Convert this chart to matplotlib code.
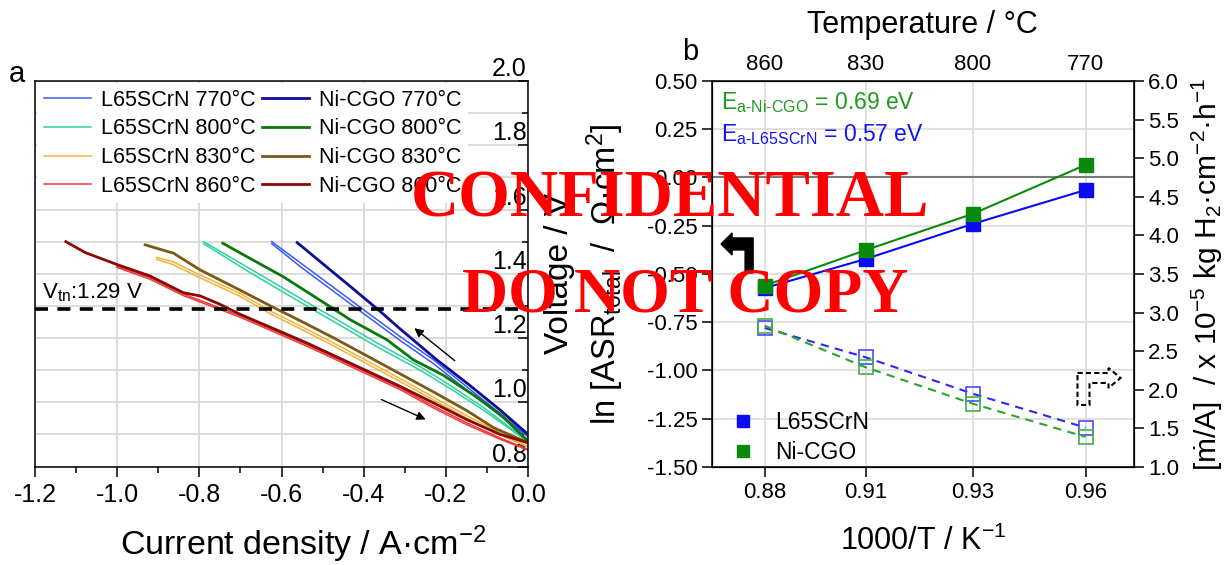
import matplotlib
matplotlib.use("Agg")
import matplotlib.pyplot as plt
from matplotlib.lines import Line2D
from matplotlib.patches import Polygon
from matplotlib.ticker import MultipleLocator

plt.rcParams['font.family'] = ['Liberation Sans', 'DejaVu Sans']
plt.rcParams['mathtext.fontset'] = 'custom'
plt.rcParams['mathtext.rm'] = 'Liberation Sans'
plt.rcParams['mathtext.it'] = 'Liberation Sans:italic'
plt.rcParams['mathtext.bf'] = 'Liberation Sans:bold'

# ---- (a) i-V curves, current density in A/cm2, voltage in V ----
# L65SCrN: outgoing and return sweep
j_l65_770 = [0.0, -0.068, -0.149, -0.230, -0.312, -0.393, -0.474, -0.555, -0.624]
v_l65_770_up = [0.895, 0.965, 1.048, 1.132, 1.205, 1.281, 1.358, 1.435, 1.500]
v_l65_770_dn = [0.893, 0.958, 1.038, 1.120, 1.193, 1.269, 1.346, 1.423, 1.494]

j_l65_800 = [0.0, -0.109, -0.190, -0.263, -0.368, -0.474, -0.555, -0.677, -0.790]
v_l65_800_up = [0.879, 0.984, 1.053, 1.111, 1.185, 1.264, 1.324, 1.416, 1.500]
v_l65_800_dn = [0.877, 0.976, 1.043, 1.100, 1.173, 1.252, 1.312, 1.404, 1.494]

j_l65_830 = [0.0, -0.068, -0.149, -0.312, -0.474, -0.555, -0.624, -0.701, -0.798, -0.863, -0.904]
v_l65_830_up = [0.863, 0.905, 0.958, 1.074, 1.185, 1.238, 1.282, 1.339, 1.396, 1.437, 1.451]
v_l65_830_dn = [0.860, 0.899, 0.950, 1.065, 1.176, 1.229, 1.273, 1.330, 1.387, 1.428, 1.445]

j_l65_860 = [0.0, -0.068, -0.149, -0.230, -0.312, -0.539, -0.701, -0.839, -0.920, -1.001]
v_l65_860_up = [0.853, 0.889, 0.936, 0.988, 1.045, 1.180, 1.270, 1.337, 1.388, 1.424]
v_l65_860_dn = [0.851, 0.885, 0.930, 0.982, 1.040, 1.175, 1.265, 1.332, 1.383, 1.420]

# Ni-CGO
j_ni_770 = [0.0, -0.068, -0.149, -0.222, -0.312, -0.360, -0.433, -0.490, -0.562]
v_ni_770 = [0.900, 0.976, 1.060, 1.132, 1.229, 1.283, 1.361, 1.421, 1.497]

j_ni_800 = [0.0, -0.068, -0.125, -0.206, -0.279, -0.344, -0.433, -0.514, -0.596, -0.677, -0.743]
v_ni_800 = [0.879, 0.963, 1.016, 1.084, 1.132, 1.195, 1.257, 1.324, 1.391, 1.448, 1.495]

j_ni_830 = [0.0, -0.084, -0.149, -0.230, -0.312, -0.474, -0.555, -0.624, -0.701, -0.798, -0.863, -0.932]
v_ni_830 = [0.874, 0.921, 0.974, 1.032, 1.089, 1.201, 1.254, 1.298, 1.349, 1.412, 1.464, 1.490]

j_ni_860 = [0.0, -0.068, -0.149, -0.230, -0.312, -0.539, -0.701, -0.750, -0.798, -0.839,
            -0.920, -1.001, -1.078, -1.125]
v_ni_860 = [0.874, 0.900, 0.946, 0.998, 1.050, 1.185, 1.274, 1.305, 1.331, 1.341,
            1.393, 1.429, 1.466, 1.500]

v_tn = 1.29

# ---- (b) Arrhenius plot ----
temps_c = [860, 830, 800, 770]
inv_t = [0.8825, 0.9065, 0.9318, 0.9586]          # 1000/T, K^-1
inv_t_labels = ['0.88', '0.91', '0.93', '0.96']
ln_asr_l65 = [-0.573, -0.422, -0.241, -0.065]
ln_asr_ni = [-0.560, -0.376, -0.189, 0.065]
h2_rate_l65 = [2.80, 2.42, 1.95, 1.51]             # x 1e-5 kg H2 cm-2 h-1
h2_rate_ni = [2.83, 2.29, 1.82, 1.39]

fig = plt.figure(figsize=(12.3, 5.65), dpi=100)

# ================= panel a =================
ax = fig.add_axes([0.0285, 0.1743, 0.4008, 0.6823])
ax.set_xlim(-1.2, 0.0)
ax.set_ylim(0.8, 2.0)
ax.set_axisbelow(True)

c_l65 = ['#3b5bf2', '#2cd39e', '#f0b43a', '#f03a3a']
c_ni = ['#0d0d9a', '#0a780a', '#7a5a14', '#8a0a0a']
l65_sets = [(j_l65_770, v_l65_770_up, v_l65_770_dn, '770'),
            (j_l65_800, v_l65_800_up, v_l65_800_dn, '800'),
            (j_l65_830, v_l65_830_up, v_l65_830_dn, '830'),
            (j_l65_860, v_l65_860_up, v_l65_860_dn, '860')]
ni_sets = [(j_ni_770, v_ni_770, '770'), (j_ni_800, v_ni_800, '800'),
           (j_ni_830, v_ni_830, '830'), (j_ni_860, v_ni_860, '860')]

handles = []
for (j, vu, vd, t), c in zip(l65_sets, c_l65):
    h, = ax.plot(j, vu, color=c, lw=1.1, label=f'L65SCrN {t}°C')
    ax.plot(j, vd, color=c, lw=1.1)
    handles.append(h)
for (j, v, t), c in zip(ni_sets, c_ni):
    h, = ax.plot(j, v, color=c, lw=2.0, label=f'Ni-CGO {t}°C')
    handles.append(h)

ax.axhline(v_tn, color='k', lw=2.6, ls=(0, (3.6, 2.6)))
ax.text(-1.182, v_tn + 0.05, r'V$_{\mathrm{tn}}$:1.29 V', fontsize=16, va='center', ha='left')

# sweep direction arrows
ax.annotate('', xy=(-0.282, 1.236), xytext=(-0.173, 1.124),
            arrowprops=dict(arrowstyle='-|>', color='k', lw=1.0, mutation_scale=13))
ax.annotate('', xy=(-0.243, 0.943), xytext=(-0.363, 1.012),
            arrowprops=dict(arrowstyle='-|>', color='k', lw=1.0, mutation_scale=13))

ax.xaxis.set_major_locator(MultipleLocator(0.2))
ax.xaxis.set_minor_locator(MultipleLocator(0.1))
ax.yaxis.set_major_locator(MultipleLocator(0.2))
ax.yaxis.set_minor_locator(MultipleLocator(0.1))
ax.grid(which='major', axis='x', color='#d6d6d6', lw=1.2)
ax.grid(which='both', axis='y', color='#d6d6d6', lw=1.2)
ax.xaxis.set_major_formatter(lambda x, pos: f'{x:.1f}')
ax.yaxis.set_major_formatter(lambda y, pos: f'{y:.1f}')

ax.yaxis.tick_right()
ax.tick_params(axis='x', which='major', direction='out', length=7, width=1.1,
               labelsize=18, pad=5)
ax.tick_params(axis='x', which='minor', direction='out', length=4, width=1.1)
ax.tick_params(axis='y', which='major', direction='in', length=7, width=1.1,
               left=False, right=True, labelleft=False, labelright=True,
               labelsize=18, pad=-1)
ax.tick_params(axis='y', which='minor', direction='in', length=4, width=1.1,
               left=False, right=True)
for lbl in ax.get_yticklabels():
    lbl.set_ha('right')
    lbl.set_va('bottom')
for s in ax.spines.values():
    s.set_linewidth(1.1)

ax.set_xlabel('Current density / A·cm$^{-2}$', fontsize=24.5)
ax.xaxis.set_label_coords(0.545, -0.148)
ax.yaxis.set_label_position('right')
ax.set_ylabel('Voltage / V', fontsize=24, labelpad=8, rotation=90)

ax.legend(handles=handles, ncol=2, loc='upper left', bbox_to_anchor=(0.0, 1.0),
          fontsize=15.5, handlelength=2.2, handletextpad=0.45, columnspacing=0.3,
          labelspacing=0.36, borderpad=0.3, borderaxespad=0.1,
          frameon=True, fancybox=False, framealpha=1, facecolor='white',
          edgecolor='none')

fig.text(17 / 1230, 1 - 74 / 565, 'a', fontsize=21, ha='center', va='center')

# ================= panel b =================
bx = fig.add_axes([0.5789, 0.1735, 0.3427, 0.6832])
bx.set_xlim(0.870, 0.970)
bx.set_ylim(-1.5, 0.5)
bx.set_axisbelow(True)
bx.set_xticks(inv_t)
bx.set_xticklabels(inv_t_labels)
bx.set_yticks([-1.5, -1.25, -1.0, -0.75, -0.5, -0.25, 0.0, 0.25, 0.5])
bx.yaxis.set_major_formatter(lambda y, pos: f'{y:.2f}')
bx.grid(True, color='#dcdcdc', lw=1.2)
bx.axhline(0.0, color='#7a7a7a', lw=1.5, zorder=1.5)

col_l65, col_ni = '#0a0af5', '#0a8a0a'
bx.plot(inv_t, ln_asr_l65, marker='s', ms=9.5, color=col_l65, lw=1.5, zorder=3)
bx.plot(inv_t, ln_asr_ni, marker='s', ms=9.5, color=col_ni, lw=1.5, zorder=3)

bx.tick_params(axis='both', direction='out', length=7, width=1.1, labelsize=16)
bx.tick_params(axis='x', pad=4)
for s in bx.spines.values():
    s.set_linewidth(1.1)
bx.set_xlabel('1000/T / K$^{-1}$', fontsize=22, labelpad=16)
bx.set_ylabel('ln [ASR$_{\\mathrm{total}}$  /  Ω·cm$^{2}$]', fontsize=23.5, labelpad=15)

bx.text(0.021, 0.943, r'E$_{\text{a-Ni-CGO}}$ = 0.69 eV', color='#1f9a1f',
        fontsize=16.5, transform=bx.transAxes, ha='left', va='center')
bx.text(0.021, 0.860, r'E$_{\text{a-L65SCrN}}$ = 0.57 eV', color='#1515f0',
        fontsize=16.5, transform=bx.transAxes, ha='left', va='center')

# axis pointers
left_arrow = [(0.0214, 0.5777), (0.0475, 0.6062), (0.0475, 0.5933), (0.0974, 0.5933),
              (0.0974, 0.5026), (0.0784, 0.5026), (0.0784, 0.5622), (0.0475, 0.5622),
              (0.0475, 0.5492)]
bx.add_patch(Polygon(left_arrow, closed=True, transform=bx.transAxes,
                     facecolor='k', edgecolor='k', lw=1, zorder=4))
right_arrow = [(0.8670, 0.2435), (0.9406, 0.2435), (0.9406, 0.2565), (0.9691, 0.2306),
               (0.9406, 0.2047), (0.9406, 0.2176), (0.8955, 0.2176), (0.8955, 0.1606),
               (0.8670, 0.1606)]
bx.add_patch(Polygon(right_arrow, closed=True, transform=bx.transAxes,
                     facecolor='none', edgecolor='k', lw=1.5, ls=(0, (2.5, 1.5)), zorder=4))

leg_handles = [Line2D([], [], marker='s', ls='none', ms=9, color=col_l65),
               Line2D([], [], marker='s', ls='none', ms=9, color=col_ni)]
bx.legend(leg_handles, ['L65SCrN', 'Ni-CGO'], loc='lower left', bbox_to_anchor=(-0.029, -0.046),
          fontsize=16.5, frameon=False, handletextpad=0.4, labelspacing=0.3)

# production rate on the right axis
rx = bx.twinx()
rx.set_ylim(1.0, 6.0)
rx.set_yticks([1.0, 1.5, 2.0, 2.5, 3.0, 3.5, 4.0, 4.5, 5.0, 5.5, 6.0])
rx.yaxis.set_major_formatter(lambda y, pos: f'{y:.1f}')
rx.plot(inv_t, h2_rate_l65, marker='s', ms=10, mfc='none', mec='#4a4aff', mew=1.2,
        color='#2a2af2', lw=1.5, ls=(0, (4, 3)))
rx.plot(inv_t, h2_rate_ni, marker='s', ms=10, mfc='none', mec='#44b044', mew=1.2,
        color='#2aa52a', lw=1.5, ls=(0, (4, 3)))
rx.tick_params(axis='y', direction='out', length=7, width=1.1, labelsize=16)
rx.set_ylabel('[$\\dot{\\mathrm{m}}$/A]  / x 10$^{-5}$ kg H$_2$·cm$^{-2}$·h$^{-1}$',
              fontsize=21.5, labelpad=8)

# temperature scale on top
tx = bx.twiny()
tx.set_xlim(bx.get_xlim())
tx.set_xticks(inv_t)
tx.set_xticklabels([str(t) for t in temps_c])
tx.tick_params(axis='x', length=0, labelsize=16, pad=4.5)
tx.set_xlabel('Temperature / °C', fontsize=22, labelpad=15)

fig.text(690 / 1230, 1 - 52 / 565, 'b', fontsize=21, ha='center', va='center')

# watermark
fig.text(670 / 1230, 1 - 200 / 565, 'CONFIDENTIAL', color='red', fontsize=48,
         fontweight='bold', family='Liberation Serif', ha='center', va='center', zorder=10)
fig.text(685 / 1230, 1 - 296 / 565, 'DO NOT COPY', color='red', fontsize=46,
         fontweight='bold', family='Liberation Serif', ha='center', va='center', zorder=10)

fig.savefig('out.png', dpi=100)
